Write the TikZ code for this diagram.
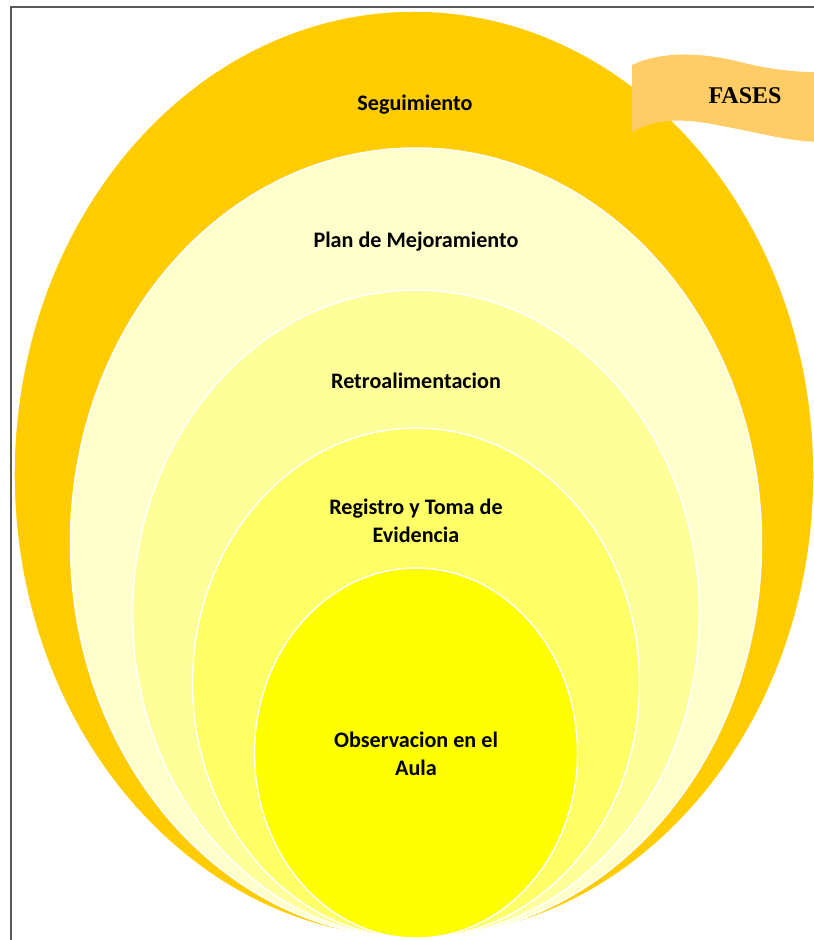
\documentclass[tikz,border=0pt]{standalone}
\usepackage{fontspec}
\setmainfont{Carlito}
\newfontfamily\fasesfont{Liberation Serif}
\usetikzlibrary{positioning}
\usetikzlibrary{shapes.geometric}
\definecolor{segcol}{HTML}{FFCC00}
\definecolor{plancol}{HTML}{FFFFCC}
\definecolor{retrocol}{HTML}{FFFF99}
\definecolor{regcol}{HTML}{FFFF66}
\definecolor{obscol}{HTML}{FFFF00}
\definecolor{bannercol}{HTML}{FFCC66}

\begin{document}
\begin{tikzpicture}[x=0.75pt,y=-0.75pt,
        ring/.style={ellipse, draw=white, line width=1.1pt, inner sep=0pt},
        lbl/.style={font=\bfseries\fontsize{16.6}{20.5}\selectfont, align=center, anchor=base}]
        \useasboundingbox (0,0) rectangle (814,940);
        % rings %
        \node[ring, fill=segcol, minimum width=600pt, minimum height=695.25pt] (seg) at (414,474.5) {};
        \node[ring, fill=plancol, minimum width=518.25pt, minimum height=592.5pt] (plan) at (416,543) {};
        \node[ring, fill=retrocol, minimum width=425.25pt, minimum height=486pt] (retro) at (416,614) {};
        \node[ring, fill=regcol, minimum width=335.25pt, minimum height=382.5pt] (reg) at (416,683) {};
        \node[ring, fill=obscol, minimum width=242.25pt, minimum height=277.5pt] (obs) at (416,753) {};
        % banner %
        \begin{scope}
        \clip (0,0) rectangle (814,940);
        \fill[bannercol] (632,65) .. controls (662,51) and (700,52) .. (740,62)
                .. controls (772,70) and (800,73) .. (830,72) -- (830,142)
                .. controls (792,143) and (762,133) .. (722,126)
                .. controls (684,118) and (656,118) .. (632,132) -- cycle;
        \end{scope}
        \node[font=\fasesfont\bfseries\fontsize{18}{22}\selectfont, anchor=base] (fases) at (745,103) {FASES};
        % labels %
        \node[lbl] (tseg) at (415,110) {Seguimiento};
        \node[lbl] (tplan) at (416,247) {Plan de Mejoramiento};
        \node[lbl] (tretro) at (416,388) {Retroalimentacion};
        \node[lbl] (treg) at (416,542) {Registro y Toma de\\Evidencia};
        \node[lbl] (tobs) at (416,775) {Observacion en el\\Aula};
        % frame %
        \draw[black!65, line width=1.1pt] (11,940) -- (11,7) -- (814,7);
\end{tikzpicture}
\end{document}
